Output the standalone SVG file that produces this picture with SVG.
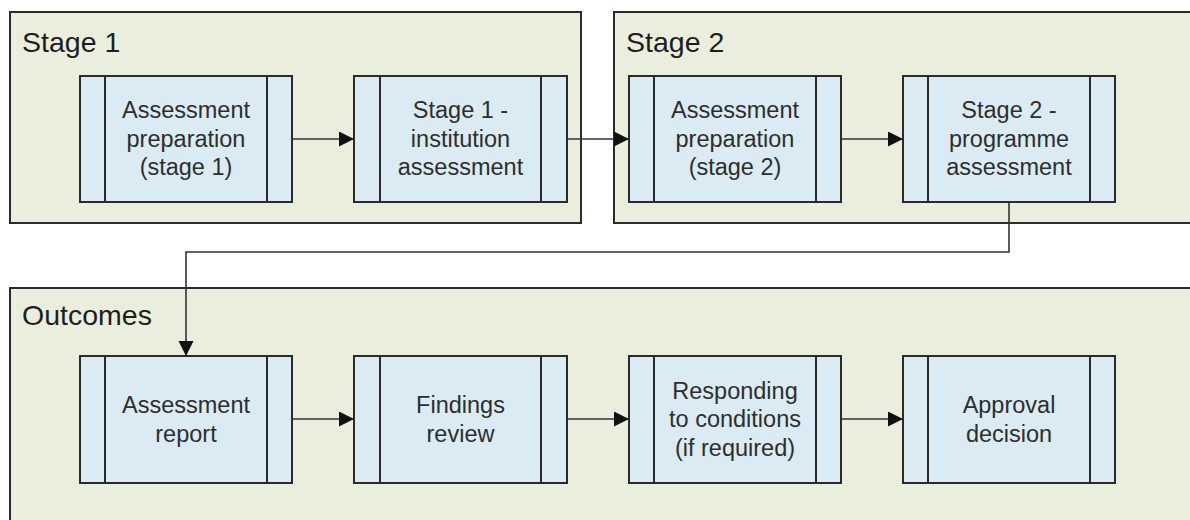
<svg xmlns="http://www.w3.org/2000/svg" width="1190" height="520" viewBox="0 0 1190 520">
  <style>
    .lane { fill: #e9efdc; stroke: #2b2b2b; stroke-width: 2; }
    .lane-title { font-family: "Liberation Sans", Arial, sans-serif; font-size: 28.5px; fill: #1e1e1e; }
    .proc { fill: #daebf3; stroke: #2b2b2b; stroke-width: 2; }
    .bar { stroke: #2b2b2b; stroke-width: 2; }
    .label { font-family: "Liberation Sans", Arial, sans-serif; font-size: 23.5px; fill: #2e2e2e; text-anchor: middle; }
    .conn { fill: none; stroke: #333333; stroke-width: 1.6; }
  </style>
  <defs>
    <marker id="arrow" markerWidth="16" markerHeight="16" refX="15" refY="7.5" orient="auto" markerUnits="userSpaceOnUse">
      <path d="M0,0 L15,7.5 L0,15 Z" fill="#111111"/>
    </marker>
  </defs>

  <!-- Swimlane containers -->
  <g id="lane-stage1">
    <rect class="lane" x="10" y="12" width="571" height="211"/>
    <text class="lane-title" x="22" y="52">Stage 1</text>
  </g>
  <g id="lane-stage2">
    <rect class="lane" x="614" y="12" width="600" height="211"/>
    <text class="lane-title" x="626" y="52">Stage 2</text>
  </g>
  <g id="lane-outcomes">
    <rect class="lane" x="10" y="288" width="1200" height="260"/>
    <text class="lane-title" x="22" y="325">Outcomes</text>
  </g>

  <!-- Connectors -->
  <g id="connectors">
    <line class="conn" x1="292" y1="139" x2="354" y2="139" marker-end="url(#arrow)"/>
    <line class="conn" x1="567" y1="139" x2="629" y2="139" marker-end="url(#arrow)"/>
    <line class="conn" x1="841" y1="139" x2="903" y2="139" marker-end="url(#arrow)"/>
    <polyline class="conn" points="1009,202 1009,252 186,252 186,356" marker-end="url(#arrow)"/>
    <line class="conn" x1="292" y1="419" x2="354" y2="419" marker-end="url(#arrow)"/>
    <line class="conn" x1="567" y1="419" x2="629" y2="419" marker-end="url(#arrow)"/>
    <line class="conn" x1="841" y1="419" x2="903" y2="419" marker-end="url(#arrow)"/>
  </g>

  <!-- Stage 1 processes -->
  <g id="prep-stage1">
    <rect class="proc" x="80" y="76" width="212" height="126"/>
    <line class="bar" x1="105" y1="76" x2="105" y2="202"/>
    <line class="bar" x1="267" y1="76" x2="267" y2="202"/>
    <text class="label" x="186" y="118">Assessment</text>
    <text class="label" x="186" y="146.5">preparation</text>
    <text class="label" x="186" y="175">(stage 1)</text>
  </g>
  <g id="institution-assessment">
    <rect class="proc" x="354" y="76" width="213" height="126"/>
    <line class="bar" x1="380" y1="76" x2="380" y2="202"/>
    <line class="bar" x1="541" y1="76" x2="541" y2="202"/>
    <text class="label" x="460.5" y="118">Stage 1 -</text>
    <text class="label" x="460.5" y="146.5">institution</text>
    <text class="label" x="460.5" y="175">assessment</text>
  </g>

  <!-- Stage 2 processes -->
  <g id="prep-stage2">
    <rect class="proc" x="629" y="76" width="212" height="126"/>
    <line class="bar" x1="654" y1="76" x2="654" y2="202"/>
    <line class="bar" x1="816" y1="76" x2="816" y2="202"/>
    <text class="label" x="735" y="118">Assessment</text>
    <text class="label" x="735" y="146.5">preparation</text>
    <text class="label" x="735" y="175">(stage 2)</text>
  </g>
  <g id="programme-assessment">
    <rect class="proc" x="903" y="76" width="212" height="126"/>
    <line class="bar" x1="928" y1="76" x2="928" y2="202"/>
    <line class="bar" x1="1090" y1="76" x2="1090" y2="202"/>
    <text class="label" x="1009" y="118">Stage 2 -</text>
    <text class="label" x="1009" y="146.5">programme</text>
    <text class="label" x="1009" y="175">assessment</text>
  </g>

  <!-- Outcome processes -->
  <g id="assessment-report">
    <rect class="proc" x="80" y="356" width="212" height="127"/>
    <line class="bar" x1="105" y1="356" x2="105" y2="483"/>
    <line class="bar" x1="267" y1="356" x2="267" y2="483"/>
    <text class="label" x="186" y="413">Assessment</text>
    <text class="label" x="186" y="441.5">report</text>
  </g>
  <g id="findings-review">
    <rect class="proc" x="354" y="356" width="213" height="127"/>
    <line class="bar" x1="380" y1="356" x2="380" y2="483"/>
    <line class="bar" x1="541" y1="356" x2="541" y2="483"/>
    <text class="label" x="460.5" y="413">Findings</text>
    <text class="label" x="460.5" y="441.5">review</text>
  </g>
  <g id="responding-conditions">
    <rect class="proc" x="629" y="356" width="212" height="127"/>
    <line class="bar" x1="654" y1="356" x2="654" y2="483"/>
    <line class="bar" x1="816" y1="356" x2="816" y2="483"/>
    <text class="label" x="735" y="398.5">Responding</text>
    <text class="label" x="735" y="427">to conditions</text>
    <text class="label" x="735" y="455.5">(if required)</text>
  </g>
  <g id="approval-decision">
    <rect class="proc" x="903" y="356" width="212" height="127"/>
    <line class="bar" x1="928" y1="356" x2="928" y2="483"/>
    <line class="bar" x1="1090" y1="356" x2="1090" y2="483"/>
    <text class="label" x="1009" y="413">Approval</text>
    <text class="label" x="1009" y="441.5">decision</text>
  </g>
</svg>
